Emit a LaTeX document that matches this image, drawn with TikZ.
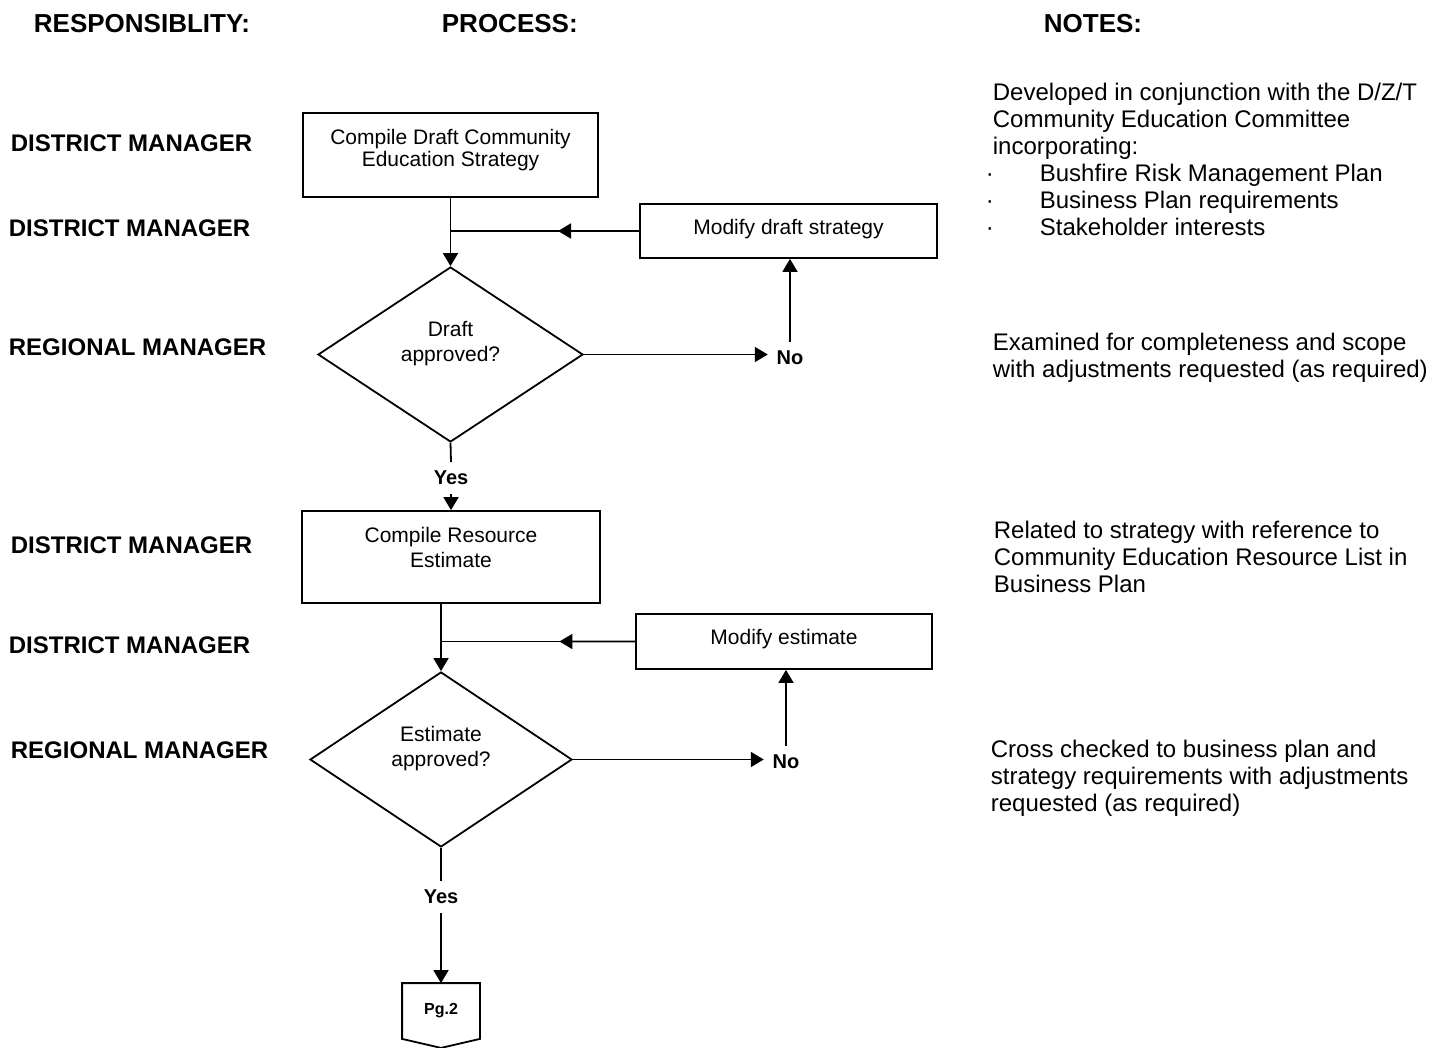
\documentclass[tikz,border=0pt]{standalone}
\usepackage{fontspec}
\setmainfont{Liberation Sans}
\usetikzlibrary{arrows.meta, shapes.geometric, calc}
\tikzset{
  every picture/.style={line width=0.9pt},
  procbox/.style={draw, rectangle, inner sep=0pt},
  decision/.style={draw, diamond, inner sep=0pt, minimum height=87.5pt},
  boxtext/.style={align=center, inner sep=0pt, font=\fontsize{10.5}{11}\selectfont},
  heading/.style={anchor=west, inner sep=0pt, font=\bfseries\fontsize{13}{15}\selectfont},
  role/.style={anchor=west, inner sep=0pt, font=\bfseries\fontsize{12}{14}\selectfont},
  note/.style={anchor=north west, align=left, inner sep=0pt, font=\fontsize{12}{13.5}\selectfont},
  answer/.style={inner sep=4pt, font=\bfseries\fontsize{10}{12}\selectfont},
  link/.style={draw},
  arrow/.style={-{Triangle[length=6.5pt, width=7.5pt]}},
}
\newcommand{\bulletitem}{\hspace*{-3.5pt}\makebox[27pt][l]{·}}

\begin{document}
\begin{tikzpicture}[x=0.5pt, y=-0.5pt]
  \useasboundingbox (0,0) rectangle (1445,1048);
  % column headings
  \node[heading] (hresp) at (33,24) {RESPONSIBLITY:};
  \node[heading] (hproc) at (441,24) {PROCESS:};
  \node[heading] (hnotes) at (1043,24) {NOTES:};
  % responsibility column
  \node[role] (resp1) at (10,143) {DISTRICT MANAGER};
  \node[role] (resp2) at (8,228) {DISTRICT MANAGER};
  \node[role] (resp3) at (8,347) {REGIONAL MANAGER};
  \node[role] (resp4) at (10,545) {DISTRICT MANAGER};
  \node[role] (resp5) at (8,645) {DISTRICT MANAGER};
  \node[role] (resp6) at (10,750) {REGIONAL MANAGER};
  % strategy loop
  \node[procbox, minimum width=147.5pt, minimum height=42pt] (box1) at (450.5,155) {};
  \node[boxtext] (box1txt) at (450.5,150) {Compile Draft Community\\Education Strategy};
  \node[procbox, minimum width=148.5pt, minimum height=27pt] (mod1) at (788.5,231) {};
  \node[boxtext] (mod1txt) at (788.5,229) {Modify draft strategy};
  \node[decision, minimum width=132.5pt] (dia1) at (450.5,354.5) {};
  \node[boxtext] (dia1txt) at (450.5,344) {Draft\\[1.5pt]approved?};
  \node[answer] (no1) at (790,358) {No};
  \node[answer] (yes1) at (451,478) {Yes};
  % estimate loop
  \node[procbox, minimum width=149pt, minimum height=46pt] (box2) at (451,557) {};
  \node[boxtext] (box2txt) at (451,547) {Compile Resource\\[1.5pt]Estimate};
  \node[procbox, minimum width=148pt, minimum height=27.5pt] (mod2) at (784,641.5) {};
  \node[boxtext] (mod2txt) at (784,639) {Modify estimate};
  \node[decision, minimum width=131pt] (dia2) at (441,759.5) {};
  \node[boxtext] (dia2txt) at (441,749) {Estimate\\[1.5pt]approved?};
  \node[answer] (no2) at (786,762) {No};
  \node[answer] (yes2) at (441,897) {Yes};
  % off-page connector
  \node[inner sep=0pt, minimum width=38pt, minimum height=27pt,
    font=\bfseries\fontsize{8}{10}\selectfont] (pg2) at (441,1011) {Pg.2};
  \draw (pg2.north west) -- (pg2.north east) -- (pg2.south east)
    -- ($(pg2.south)+(0,9)$) -- (pg2.south west) -- cycle;
  % connectors
  \draw[arrow] (box1.south) -- (dia1.north);
  \coordinate (join1) at (box1.south |- mod1.west);
  \draw[link] (mod1.west) -- (join1);
  \draw[arrow] (mod1.west) -- ($(mod1.west)!0.43!(join1)$);
  \draw[arrow] (dia1.east) -- (dia1.east -| no1.west);
  \draw[arrow] (no1.north) -- (no1.north |- mod1.south);
  \draw[link] (dia1.south) -- (yes1.north);
  \draw[arrow] (yes1.south) -- (yes1.south |- box2.north);
  \draw[arrow] (dia2.north |- box2.south) -- (dia2.north);
  \coordinate (join2) at (dia2.north |- mod2.west);
  \draw[link] (mod2.west) -- (join2);
  \draw[arrow] (mod2.west) -- ($(mod2.west)!0.39!(join2)$);
  \draw[arrow] (dia2.east) -- (dia2.east -| no2.west);
  \draw[arrow] (no2.north) -- (no2.north |- mod2.south);
  \draw[link] (dia2.south) -- (yes2.north);
  \draw[arrow] (yes2.south) -- (pg2.north);
  % notes column
  \node[note] (note1) at (992,82) {Developed in conjunction with the D/Z/T\\
    Community Education Committee\\incorporating:\\
    \bulletitem Bushfire Risk Management Plan\\
    \bulletitem Business Plan requirements\\
    \bulletitem Stakeholder interests};
  \node[note] (note2) at (992,332) {Examined for completeness and scope\\
    with adjustments requested (as required)};
  \node[note] (note3) at (993,520) {Related to strategy with reference to\\
    Community Education Resource List in\\Business Plan};
  \node[note] (note4) at (990,739) {Cross checked to business plan and\\
    strategy requirements with adjustments\\requested (as required)};
\end{tikzpicture}
\end{document}
